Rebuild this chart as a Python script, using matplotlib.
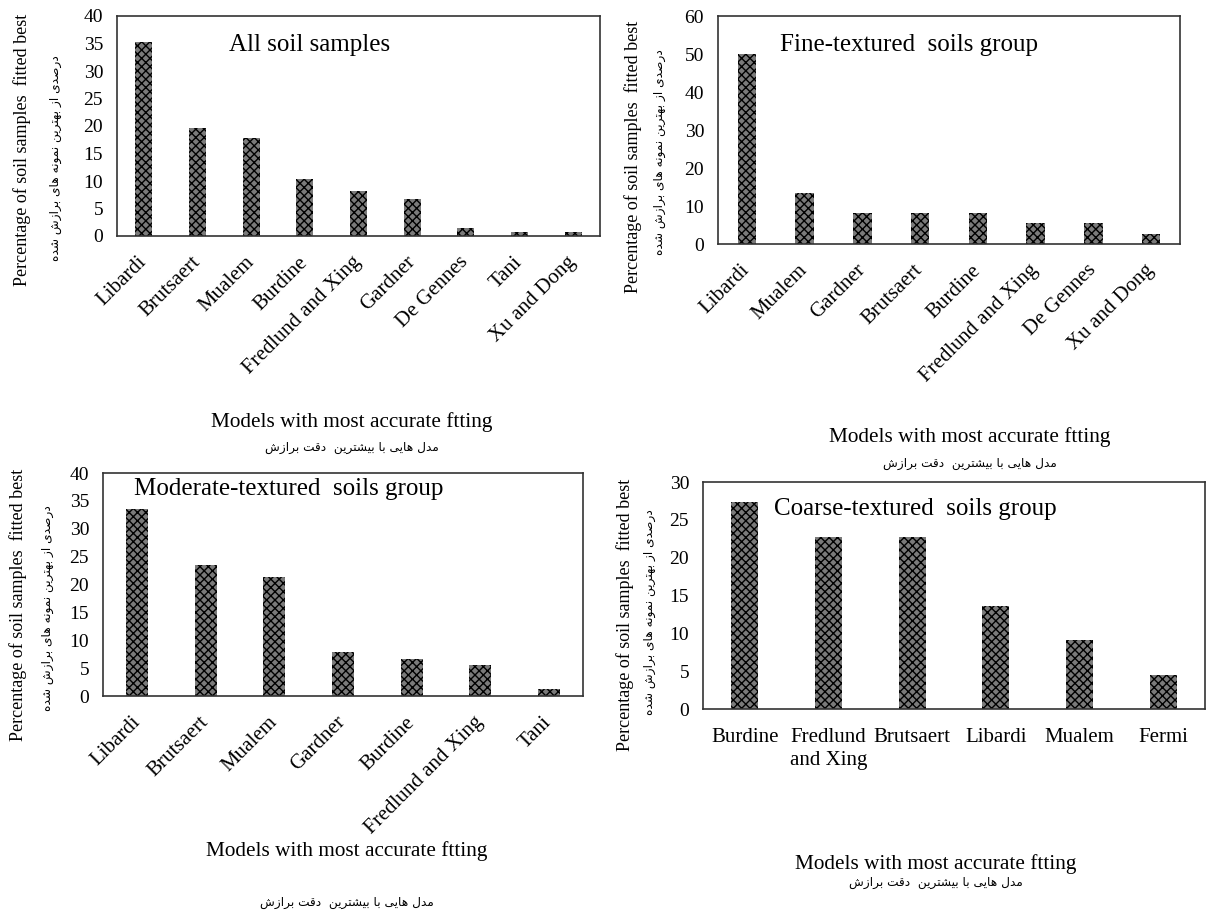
import matplotlib
matplotlib.use("Agg")
from matplotlib import pyplot as plt

# percentage of soil samples for which each model gave the best fit
all_models = ["Libardi", "Brutsaert", "Mualem", "Burdine", "Fredlund and Xing",
              "Gardner", "De Gennes", "Tani", "Xu and Dong"]
all_pct = [35.3, 19.7, 17.8, 10.3, 8.2, 6.8, 1.4, 0.8, 0.8]

fine_models = ["Libardi", "Mualem", "Gardner", "Brutsaert", "Burdine",
               "Fredlund and Xing", "De Gennes", "Xu and Dong"]
fine_pct = [50.0, 13.5, 8.1, 8.1, 8.1, 5.4, 5.4, 2.7]

moderate_models = ["Libardi", "Brutsaert", "Mualem", "Gardner", "Burdine",
                   "Fredlund and Xing", "Tani"]
moderate_pct = [33.6, 23.5, 21.3, 7.9, 6.7, 5.5, 1.3]

coarse_models = ["Burdine", "Fredlund\nand Xing", "Brutsaert", "Libardi", "Mualem", "Fermi"]
coarse_pct = [27.3, 22.7, 22.7, 13.6, 9.1, 4.5]

ylabel_en = "Percentage of soil samples  fitted best"
ylabel_fa = "درصدی از بهترین نمونه های برازش شده"
xlabel_en = "Models with most accurate ftting"
xlabel_fa = "مدل هایی با بیشترین  دقت برازش"

SERIF = "Liberation Serif"
FA_FONT = ["DejaVu Sans"]

# --- tiny Persian shaper: matplotlib has no Arabic shaping ---
# letter: (isolated, final, initial, medial); None for letters that only join to the right
FORMS = {
    "ا": ("\uFE8D", "\uFE8E", None, None),
    "د": ("\uFEA9", "\uFEAA", None, None),
    "ر": ("\uFEAD", "\uFEAE", None, None),
    "ز": ("\uFEAF", "\uFEB0", None, None),
    "و": ("\uFEED", "\uFEEE", None, None),
    "ب": ("\uFE8F", "\uFE90", "\uFE91", "\uFE92"),
    "ت": ("\uFE95", "\uFE96", "\uFE97", "\uFE98"),
    "ص": ("\uFEB9", "\uFEBA", "\uFEBB", "\uFEBC"),
    "ش": ("\uFEB5", "\uFEB6", "\uFEB7", "\uFEB8"),
    "ق": ("\uFED5", "\uFED6", "\uFED7", "\uFED8"),
    "ل": ("\uFEDD", "\uFEDE", "\uFEDF", "\uFEE0"),
    "م": ("\uFEE1", "\uFEE2", "\uFEE3", "\uFEE4"),
    "ن": ("\uFEE5", "\uFEE6", "\uFEE7", "\uFEE8"),
    "ه": ("\uFEE9", "\uFEEA", "\uFEEB", "\uFEEC"),
    "ی": ("\uFEEF", "\uFEF0", "\uFEF3", "\uFEF4"),
}


def shape_fa(text):
    out = []
    for i, ch in enumerate(text):
        if ch not in FORMS:
            out.append(ch)
            continue
        prev = text[i - 1] if i > 0 else ""
        nxt = text[i + 1] if i + 1 < len(text) else ""
        join_prev = prev in FORMS and FORMS[prev][2] is not None
        join_next = FORMS[ch][2] is not None and nxt in FORMS
        iso, fin, ini, med = FORMS[ch]
        if join_prev and join_next:
            out.append(med)
        elif join_prev:
            out.append(fin)
        elif join_next:
            out.append(ini)
        else:
            out.append(iso)
    return "".join(reversed(out))


W, H = 1207, 913
fig = plt.figure(figsize=(W / 100, H / 100), dpi=100)


def px_text(x, y, s, **kw):
    fig.text(x / W, 1 - y / H, s, ha="center", va="center", **kw)


def panel(box, models, pct, ymax, step, title, title_pos, rotate,
          ylab_x, ylab_y, xlab_pos):
    l, t, r, b = box
    ax = fig.add_axes([l / W, 1 - b / H, (r - l) / W, (b - t) / H])
    x = range(len(models))
    ax.bar(x, pct, width=0.32, color="#7a7a7a", edgecolor="black",
           hatch="xxxx", linewidth=0)
    ax.set_xlim(-0.5, len(models) - 0.5)
    ax.set_ylim(0, ymax)
    ax.set_yticks(range(0, ymax + 1, step))
    ax.set_yticklabels([str(v) for v in range(0, ymax + 1, step)],
                       fontfamily=SERIF, fontsize=14)
    ax.set_xticks(list(x))
    if rotate:
        ax.set_xticklabels(models, fontfamily=SERIF, fontsize=15, rotation=45,
                           ha="right", va="center", rotation_mode="anchor")
        ax.tick_params(axis="x", pad=17)
    else:
        ax.set_xticklabels(models, fontfamily=SERIF, fontsize=15, linespacing=1.25)
        ax.tick_params(axis="x", pad=14)
    ax.tick_params(length=0)
    ax.tick_params(axis="y", pad=10)
    for sp in ax.spines.values():
        sp.set_linewidth(1.2)
        sp.set_color("#333333")
    ax.text(title_pos[0], title_pos[1], title, transform=ax.transAxes,
            fontfamily=SERIF, fontsize=18, va="center", ha="left")

    px_text(ylab_x[0], ylab_y[0], ylabel_en, rotation=90,
            fontfamily=SERIF, fontsize=13)
    px_text(ylab_x[1], ylab_y[1], shape_fa(ylabel_fa), rotation=90,
            family=FA_FONT, fontsize=8.7)
    px_text(xlab_pos[0], xlab_pos[1], xlabel_en, fontfamily=SERIF, fontsize=15.3)
    px_text(xlab_pos[0], xlab_pos[2], shape_fa(xlabel_fa),
            family=FA_FONT, fontsize=8.7)
    return ax


panel((117, 16, 600, 236), all_models, all_pct, 40, 5,
      "All soil samples", (0.232, 0.87), True,
      (22, 55), (150, 158), (352, 422, 447))
panel((718, 16, 1180, 244), fine_models, fine_pct, 60, 10,
      "Fine-textured  soils group", (0.134, 0.875), True,
      (633, 660), (157, 152), (970, 437, 463))
panel((103, 473, 583, 696), moderate_models, moderate_pct, 40, 5,
      "Moderate-textured  soils group", (0.065, 0.93), True,
      (18, 48), (605, 608), (347, 851, 902))
panel((703, 482, 1205, 709), coarse_models, coarse_pct, 30, 5,
      "Coarse-textured  soils group", (0.141, 0.88), False,
      (625, 650), (615, 612), (936, 864, 882))

fig.savefig("out.png", dpi=100)
